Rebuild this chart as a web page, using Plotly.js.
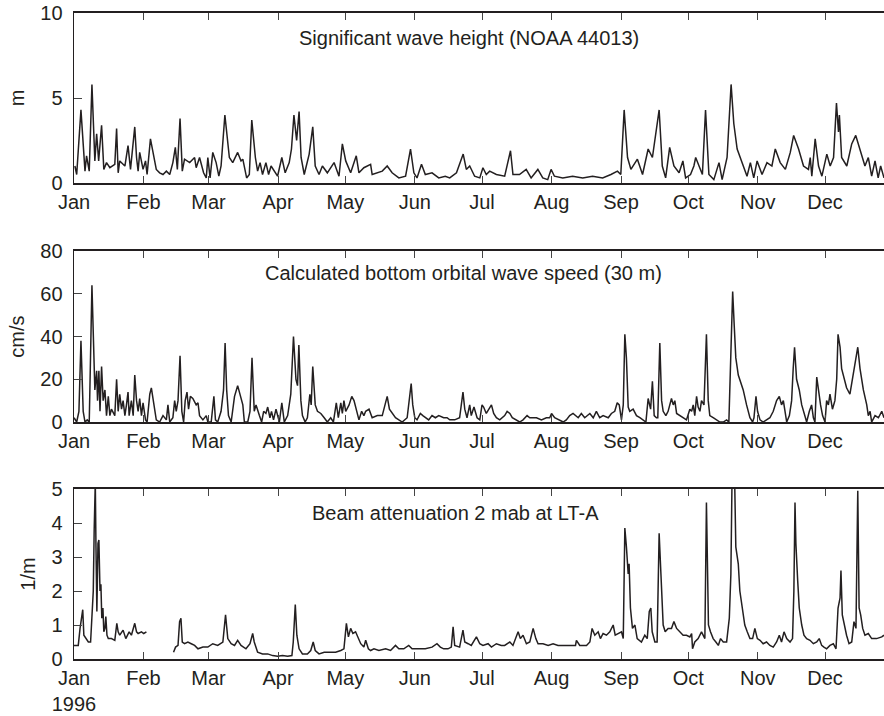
<!DOCTYPE html>
<html>
<head>
<meta charset="utf-8">
<script src="https://cdn.plot.ly/plotly-3.0.1.min.js"></script>
<style>html,body{margin:0;padding:0;background:#fff;}#chart{width:884px;height:716px;}</style>
</head>
<body>
<div id="chart"></div>
<script>
// ---- Data (day of year 1996, day 0 = 1 Jan) ----
const monthLabels = ["Jan","Feb","Mar","Apr","May","Jun","Jul","Aug","Sep","Oct","Nov","Dec"];
const monthStartDay = [0,31,60,91,121,152,182,213,244,274,305,335];
const yearLabel = "1996";

// Significant wave height (m)
const hsDay = [0.4,1.2,3.1,4.9,5.6,6.8,8.0,9.3,10.1,11.0,12.3,13.3,14.5,16.0,18.2,19.0,19.7,20.4,22.7,24.1,
  25.2,27.1,27.9,28.6,29.3,30.8,31.9,32.6,34.1,35.3,36.7,38.2,39.7,41.2,42.7,44.1,45.2,46.1,47.3,48.3,
  49.3,51.6,53.8,54.5,56.0,57.8,59.0,59.7,60.7,61.9,63.4,64.6,65.6,67.3,69.3,70.8,73.0,74.5,75.3,77.0,
  78.2,79.3,80.9,81.9,83.0,84.1,85.6,86.8,87.9,90.8,92.7,94.2,96.0,97.0,98.1,99.3,100.4,101.3,102.7,104.9,
  106.5,107.6,109.3,110.8,113.0,116.0,118.2,119.7,121.2,123.4,125.9,127.1,129.3,132.3,133.0,137.5,139.7,141.9,144.9,147.9,
  150.1,151.6,153.0,155.0,156.7,159.7,162.7,165.6,
  167.6,170.6,173.6,175.0,176.5,178.7,181.0,182.4,183.9,185.4,188.4,192.1,194.7,195.8,198.7,201.7,203.9,206.9,209.1,211.3,
  212.8,214.3,218.0,222.4,226.9,231.3,235.8,239.5,242.4,243.9,
  245.4,246.9,248.4,251.3,253.6,256.1,258.0,261.0,262.4,263.9,265.7,267.6,269.9,271.6,272.8,275.0,276.5,277.3,279.5,280.3,
  281.7,283.2,285.4,287.7,289.1,291.3,293.1,294.3,295.8,298.7,300.2,301.7,303.2,304.7,306.9,309.1,311.3,312.8,315.0,317.3,
  319.5,321.0,323.2,325.4,327.6,328.4,329.1,330.6,332.1,333.6,335.8,337.3,338.8,340.1,341.0,341.4,342.4,344.7,346.9,348.7,
  350.6,352.8,354.3,355.8,357.3,358.7,359.8,361.3];
const hsVal = [1.0,0.5,4.3,0.7,1.6,0.7,5.8,1.3,2.9,1.3,3.4,0.8,1.2,0.9,1.1,3.2,0.6,1.3,1.0,2.2,
  0.8,3.3,1.5,0.7,1.8,0.8,1.3,0.5,2.6,1.8,0.8,0.6,0.5,0.7,0.5,1.2,2.1,0.8,3.8,0.7,
  1.4,1.2,1.5,0.9,1.5,0.6,0.3,1.5,0.3,1.8,1.2,0.4,1.0,4.0,1.5,1.2,1.8,1.3,1.4,0.3,
  0.5,3.7,1.5,0.7,1.2,0.5,1.2,0.5,1.0,0.4,1.5,0.6,1.2,2.0,4.0,2.5,4.2,1.5,0.5,1.7,
  3.3,1.0,0.5,1.0,0.6,1.2,0.4,2.3,1.3,0.6,1.6,0.6,0.9,1.1,0.5,0.7,1.0,0.6,0.3,0.4,
  2.0,0.6,0.3,1.1,0.5,0.6,0.3,0.4,
  0.3,0.6,1.7,0.8,1.0,0.4,0.3,0.9,0.5,0.7,0.5,0.4,1.9,0.5,0.5,0.8,0.3,0.8,0.3,0.2,
  0.8,0.4,0.3,0.4,0.3,0.4,0.3,0.5,0.7,0.5,
  4.3,1.5,0.8,1.4,0.5,2.0,1.5,4.3,1.0,0.3,2.1,1.0,0.6,1.3,0.3,0.5,1.0,1.5,0.7,0.5,
  4.3,0.5,0.2,1.2,0.2,1.5,5.8,3.5,2.0,1.0,0.4,1.2,0.3,1.3,0.5,1.2,1.0,2.0,1.2,0.8,
  1.8,2.8,2.0,1.0,0.8,1.5,0.4,2.6,1.0,0.4,1.7,1.0,1.5,4.7,3.0,4.0,1.5,1.0,2.3,2.8,
  2.0,1.0,1.5,0.4,1.3,0.3,1.0,0.3];

// Calculated bottom orbital wave speed (cm/s)
const ubDay = [0.0,1.2,2.2,3.1,4.1,4.9,5.9,6.8,8.0,8.6,9.3,10.1,10.5,11.1,11.6,12.3,13.0,13.8,14.5,15.3,
  16.0,16.7,18.2,19.0,19.7,20.4,21.2,21.9,22.7,23.4,24.1,24.6,25.6,26.4,27.1,27.9,28.6,29.3,30.1,30.8,
  31.9,32.6,33.8,34.5,35.3,36.0,36.7,38.2,39.7,41.2,41.9,42.7,44.1,44.9,45.6,46.4,47.3,48.1,48.9,49.6,
  50.4,51.1,51.9,53.0,54.5,55.3,56.0,57.5,59.0,59.7,61.2,62.4,63.1,64.1,65.6,66.7,67.4,68.1,68.9,70.1,
  71.6,73.0,74.1,75.3,76.0,77.5,78.5,79.4,80.4,81.2,82.7,83.7,84.6,85.6,86.4,87.4,88.1,89.0,90.1,91.6,
  92.7,93.8,95.3,96.7,97.9,99.0,99.7,100.3,101.2,101.9,103.1,104.1,105.2,105.8,106.5,107.6,108.6,110.1,111.6,113.0,
  114.5,115.7,117.0,117.9,119.0,119.7,120.4,121.2,122.7,123.9,124.9,125.9,127.1,128.3,129.3,130.1,131.6,133.0,135.3,137.5,
  139.0,139.7,140.7,141.9,143.4,144.9,146.4,148.6,149.6,150.4,151.1,152.0,153.0,154.5,155.6,156.7,158.2,159.7,161.2,162.7,
  164.9,166.4,
  167.6,169.8,172.0,173.5,174.3,175.3,176.5,177.2,178.4,179.8,181.0,182.0,182.7,183.9,185.1,186.2,187.2,188.4,189.9,192.1,
  193.2,194.4,195.5,197.3,198.8,200.3,202.1,203.3,206.3,208.5,210.7,212.2,213.0,214.4,216.7,218.2,219.6,221.1,222.6,224.9,
  226.3,227.8,230.1,231.6,233.0,234.5,236.0,238.3,239.7,241.2,242.3,243.2,244.2,245.0,245.7,246.4,247.2,247.9,249.4,250.9,
  252.4,253.9,255.1,256.1,257.2,258.0,258.8,259.8,260.4,261.3,262.1,262.8,264.0,265.0,266.5,267.3,268.0,268.8,270.3,271.7,
  273.2,274.7,275.5,276.2,276.9,277.7,278.4,279.2,279.9,281.0,282.1,282.9,283.6,285.1,286.6,288.1,289.6,291.1,292.1,292.9,
  293.8,294.5,295.2,296.3,297.0,298.5,300.0,301.5,302.7,303.3,304.2,304.9,306.0,307.4,308.9,310.4,311.9,313.4,314.6,315.6,
  316.4,317.1,317.9,319.1,320.1,320.8,321.4,322.3,323.5,324.6,325.3,326.0,326.8,328.0,329.0,329.8,330.5,331.3,332.1,333.0,
  333.9,335.0,335.7,336.5,337.2,338.3,339.4,340.2,340.8,341.7,342.4,343.5,344.6,346.1,347.3,348.5,349.6,350.6,352.1,353.6,
  354.3,355.1,355.8,357.3,358.8,360.3,361.3];
const ubVal = [2,0,5,38,5,0,1,0,64,45,15,24,10,24,5,26,10,15,3,12,
  3,6,3,20,5,13,6,10,3,8,14,3,10,3,22,10,5,11,3,9,
  1,0,13,16,10,6,1,0,3,1,8,0,2,10,5,10,31,5,0,10,
  14,6,12,11,8,9,3,1,3,0,0,12,1,0,5,15,37,15,3,0,
  12,17,12,8,0,0,5,30,5,8,3,0,5,4,7,2,5,1,6,0,
  9,0,3,13,40,20,17,36,10,3,0,2,13,8,26,8,5,4,2,0,
  2,0,9,2,9,4,10,5,8,12,10,6,1,5,3,5,6,2,3,3,
  10,12,6,4,2,1,0,2,10,18,8,2,1,4,3,2,1,3,2,3,
  2,2,
  1,1,2,14,6,2,8,3,7,2,1,8,7,4,6,8,4,2,1,3,
  5,4,2,1,0,1,3,2,2,1,2,2,4,2,1,0,1,3,4,2,
  4,2,4,2,5,2,3,2,4,5,9,8,1,8,41,30,7,5,6,3,
  2,1,0,11,6,19,3,2,2,37,10,5,3,5,11,8,10,4,3,2,
  1,6,5,8,3,12,7,5,10,8,41,10,3,2,1,0,0,1,0,30,
  61,45,30,22,20,15,8,2,0,2,12,5,1,0,1,2,5,10,12,8,
  10,4,0,3,10,25,35,20,15,8,5,2,0,5,8,2,0,21,14,8,
  3,0,10,8,13,6,10,20,41,35,25,20,16,13,20,28,35,25,15,8,
  3,5,0,3,2,5,2];

// Beam attenuation 2 mab at LT-A (1/m); null = no data
const cpDay = [0.0,1.9,2.7,3.9,4.4,5.3,6.4,7.4,7.9,8.6,9.0,9.5,9.8,10.2,10.7,11.1,11.6,12.0,12.4,12.9,
  13.3,13.8,14.2,14.7,15.3,16.7,18.2,19.1,19.7,20.4,21.9,23.1,24.6,25.6,27.1,27.9,28.6,30.1,31.1,32.3,
  38.0,
  44.4,45.3,46.4,47.1,47.7,48.3,49.3,50.8,52.3,53.8,55.3,57.5,59.7,61.9,64.1,66.4,67.6,68.6,70.1,71.6,
  73.0,74.5,76.7,78.5,79.7,80.4,81.9,84.1,86.4,88.6,90.8,93.0,95.3,97.2,97.8,98.7,99.4,100.4,101.9,104.1,
  105.6,106.7,107.6,109.3,111.6,113.8,116.7,119.0,120.4,121.5,122.4,123.4,124.4,125.6,126.8,127.9,129.3,130.1,131.3,132.3,
  133.8,136.0,139.0,141.2,143.4,144.9,147.1,149.3,150.8,153.8,156.7,159.7,161.9,163.4,164.9,166.4,
  166.8,168.3,169.1,169.8,172.0,173.5,174.3,175.8,177.2,179.5,181.0,182.4,184.7,186.2,188.4,190.6,192.1,194.4,195.8,198.1,
  199.1,200.3,201.8,203.3,204.8,206.0,207.0,209.2,211.5,213.7,215.9,218.2,221.1,223.7,224.1,225.6,228.6,230.1,231.1,232.3,
  233.8,234.8,236.0,237.5,239.0,240.5,241.4,242.7,244.2,245.0,245.7,246.4,247.2,247.6,248.2,249.1,250.2,251.2,253.1,254.6,
  255.7,256.6,257.3,257.9,259.1,260.1,261.0,261.8,262.8,263.7,265.0,266.5,267.6,268.8,270.3,271.7,273.2,274.7,275.5,275.9,
  276.9,278.4,279.9,281.4,282.1,283.0,283.9,285.1,286.3,287.4,288.4,289.6,291.1,292.3,293.0,293.5,294.1,294.7,295.2,296.3,
  297.0,298.2,299.2,300.3,301.5,302.7,303.7,304.8,306.0,307.4,308.9,310.4,311.9,313.4,314.6,315.6,316.7,317.9,319.4,320.5,
  321.1,321.6,322.0,322.8,323.5,324.6,325.6,326.8,328.3,329.8,331.3,332.4,333.5,334.5,335.7,337.2,338.7,339.9,340.8,341.7,
  342.1,342.7,343.6,344.6,345.7,346.9,347.9,348.8,349.6,350.2,350.9,351.8,352.8,354.3,355.8,358.0,360.3,361.3];
const cpVal = [0.4,0.4,0.9,1.45,0.7,0.6,0.5,0.5,1.2,2.0,3.8,5.2,3.3,1.4,3.4,3.5,2.0,2.2,1.2,1.5,
  0.8,0.9,1.25,0.7,0.6,0.6,0.55,1.05,0.8,0.7,0.85,0.6,0.8,0.7,1.05,0.8,0.75,0.8,0.75,0.8,
  null,
  0.2,0.35,0.4,1.1,1.2,0.5,0.45,0.5,0.45,0.4,0.3,0.35,0.35,0.45,0.4,0.5,1.3,0.6,0.45,0.4,
  0.55,0.4,0.3,0.45,0.75,0.5,0.2,0.15,0.15,0.1,0.08,0.1,0.08,0.1,0.5,1.6,0.7,0.3,0.15,0.15,
  0.25,0.5,0.25,0.15,0.2,0.2,0.2,0.25,0.3,1.05,0.65,0.9,0.75,0.8,0.6,0.45,0.35,0.55,0.3,0.25,
  0.3,0.25,0.3,0.25,0.4,0.3,0.3,0.4,0.3,0.3,0.3,0.35,0.45,0.35,0.3,0.3,
  0.3,0.35,0.95,0.4,0.35,0.85,0.5,0.45,0.4,0.65,0.45,0.4,0.45,0.35,0.45,0.4,0.4,0.5,0.4,0.8,
  0.6,0.7,0.45,0.5,0.9,0.6,0.45,0.45,0.4,0.45,0.4,0.4,0.4,0.4,0.55,0.4,0.4,0.5,0.9,0.7,
  0.8,0.6,0.75,0.7,0.8,1.0,0.7,0.75,0.8,0.6,3.85,3.3,2.5,2.8,1.5,0.9,1.0,0.6,0.5,0.7,
  0.6,1.4,1.5,0.8,0.5,0.5,3.7,2.5,1.0,0.8,0.9,0.9,1.1,0.9,0.8,0.7,0.7,0.65,0.75,0.3,
  0.5,0.6,0.8,0.6,4.6,1.0,0.8,0.6,0.5,0.4,0.6,0.5,0.5,1.2,2.5,5.2,5.2,5.2,3.3,2.8,
  2.0,1.5,1.0,0.8,0.6,0.6,0.9,0.6,0.55,0.45,0.5,0.4,0.35,0.5,0.7,0.5,0.8,0.6,0.5,0.6,
  2.0,4.6,3.4,2.3,1.5,1.0,0.7,0.6,0.55,0.45,0.5,0.6,0.4,0.35,0.3,0.4,0.45,0.3,1.5,1.8,
  2.6,1.3,1.0,0.7,0.45,0.5,1.1,0.9,4.95,1.5,1.3,0.9,0.7,0.75,0.6,0.6,0.65,0.7];

const panelTitles = ["Significant wave height (NOAA 44013)",
                     "Calculated bottom orbital wave speed (30 m)",
                     "Beam attenuation 2 mab at LT-A"];
const yUnits = ["m","cm/s","1/m"];

// ---- Styling ----
const INK = "#231f20";
const FONT = "Liberation Sans, Arial, Helvetica, sans-serif";
const FS = 20;

function trace(x, y, xa, ya) {
  return {x: x, y: y, type: "scatter", mode: "lines", xaxis: xa, yaxis: ya,
          line: {color: INK, width: 1.5}, connectgaps: false, hoverinfo: "skip", showlegend: false};
}
const data = [trace(hsDay, hsVal, "x", "y"), trace(ubDay, ubVal, "x2", "y2"), trace(cpDay, cpVal, "x3", "y3")];

function xax(anchor, lastPanel) {
  const text = monthLabels.slice();
  if (lastPanel) text[0] = monthLabels[0] + "<br>" + yearLabel;
  return {anchor: anchor, domain: [0, 1], range: [0, 361.3], tickmode: "array", tickvals: monthStartDay, ticktext: text,
    ticks: "inside", ticklen: 7, tickwidth: 1, tickcolor: "#444", showline: true, linecolor: INK, linewidth: 1.7,
    mirror: "ticks", showgrid: false, zeroline: false, ticklabelstandoff: 0,
    tickfont: {family: FONT, size: FS, color: INK}, fixedrange: true};
}
function yax(domain, range, dtick, unit, anchor) {
  return {domain: domain, anchor: anchor, range: range, dtick: dtick, tick0: 0, ticks: "inside", ticklen: 8, tickwidth: 1,
    tickcolor: "#444", showline: true, linecolor: INK, linewidth: 1.4, mirror: false, showgrid: false, zeroline: false,
    ticklabelstandoff: 6, tickfont: {family: FONT, size: FS, color: INK},
    title: {text: unit, font: {family: FONT, size: FS, color: INK}, standoff: 10}, fixedrange: true};
}

function panelTitle(i, x, y) {
  return {text: panelTitles[i], xref: "paper", yref: "paper", x: x, y: y, showarrow: false,
          xanchor: "center", yanchor: "middle", font: {family: FONT, size: FS, color: INK}};
}

const layout = {
  width: 884, height: 716, margin: {l: 74, r: 0, t: 0, b: 0}, paper_bgcolor: "#fff", plot_bgcolor: "#fff",
  font: {family: FONT, size: FS, color: INK},
  xaxis: xax("y", false), xaxis2: xax("y2", false), xaxis3: xax("y3", true),
  yaxis: yax([0.7444, 0.9818], [0, 10], 5, yUnits[0], "x"),
  yaxis2: yax([0.4106, 0.6494], [0, 80], 20, yUnits[1], "x2"),
  yaxis3: yax([0.0796, 0.3170], [0, 5], 1, yUnits[2], "x3"),
  annotations: [panelTitle(0, 0.488, 0.947), panelTitle(1, 0.481, 0.619), panelTitle(2, 0.471, 0.2835)]
};

Plotly.newPlot("chart", data, layout, {staticPlot: true, displayModeBar: false});
</script>
</body>
</html>
